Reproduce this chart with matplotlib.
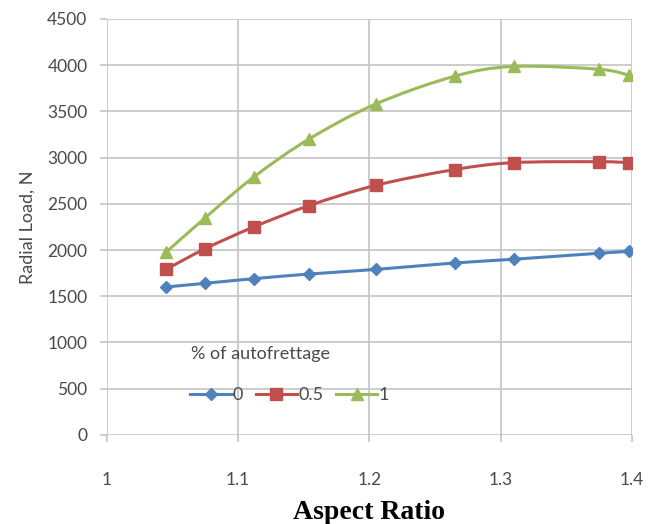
import numpy as np
import matplotlib.pyplot as plt
from matplotlib.path import Path
from matplotlib.patches import PathPatch
from matplotlib.lines import Line2D

# Данные
aspect_ratio = [1.045, 1.075, 1.112, 1.154, 1.205, 1.265, 1.310, 1.375, 1.398]
load_0 = [1600, 1640, 1690, 1740, 1790, 1860, 1900, 1965, 1985]
load_05 = [1790, 2015, 2250, 2480, 2700, 2870, 2945, 2955, 2945]
load_1 = [1975, 2350, 2790, 3200, 3580, 3880, 3985, 3955, 3890]

series_labels = ['0', '0.5', '1']
series_colors = ['#4F81BD', '#C0504D', '#9BBB59']
series_markers = ['D', 's', '^']
marker_sizes = [6.5, 9, 9]

plt.rcParams['font.family'] = ['Lato', 'DejaVu Sans']


# Сглаженная линия в стиле Excel (кривые Безье через точки)
def smooth_path(x, y, t=0.5):
    x = np.asarray(x, float)
    y = np.asarray(y, float)
    verts = [(x[0], y[0])]
    codes = [Path.MOVETO]
    n = len(x)
    for i in range(n - 1):
        x0, y0 = (x[i - 1], y[i - 1]) if i > 0 else (x[i], y[i])
        x3, y3 = (x[i + 2], y[i + 2]) if i + 2 < n else (x[i + 1], y[i + 1])
        c1 = (x[i] + (x[i + 1] - x0) * t / 3, y[i] + (y[i + 1] - y0) * t / 3)
        c2 = (x[i + 1] - (x3 - x[i]) * t / 3, y[i + 1] - (y3 - y[i]) * t / 3)
        verts += [c1, c2, (x[i + 1], y[i + 1])]
        codes += [Path.CURVE4] * 3
    return Path(verts, codes)


def main():
    fig = plt.figure(figsize=(6.48, 5.24), dpi=100)
    ax = fig.add_axes([0.165, 0.170, 0.810, 0.794])

    handles = []
    for ys, lab, col, mk, ms in zip([load_0, load_05, load_1], series_labels,
                                    series_colors, series_markers, marker_sizes):
        ax.add_patch(PathPatch(smooth_path(aspect_ratio, ys), fill=False,
                               edgecolor=col, linewidth=2.2, zorder=3))
        ax.plot(aspect_ratio, ys, linestyle='none', marker=mk, markersize=ms,
                color=col, zorder=4)
        handles.append(Line2D([], [], color=col, linewidth=2.2, marker=mk,
                              markersize=ms, label=lab))

    ax.set_xlim(1, 1.4)
    ax.set_ylim(0, 4500)
    ax.set_xticks([1, 1.1, 1.2, 1.3, 1.4])
    ax.set_xticklabels(['1', '1.1', '1.2', '1.3', '1.4'])
    ax.set_yticks(range(0, 4501, 500))
    ax.grid(True, color='#c8c8c8', linewidth=1.3)
    ax.set_axisbelow(True)
    for s in ax.spines.values():
        s.set_visible(False)
    ax.tick_params(axis='both', colors='#c8c8c8', labelcolor='#4a4a4a',
                   labelsize=12.5, length=5, width=1.3)
    ax.tick_params(axis='x', pad=22)
    ax.tick_params(axis='y', pad=9)

    ax.set_ylabel('Radial Load, N', fontsize=13, color='#4a4a4a', labelpad=8)
    ax.set_xlabel('Aspect Ratio', fontsize=20, fontweight='bold',
                  family=['Liberation Serif', 'DejaVu Serif'], labelpad=8)

    # Заголовок легенды отдельно, чтобы задать отступ как в оригинале
    ax.text(0.16, 0.195, '% of autofrettage', transform=ax.transAxes,
            fontsize=13, color='#4a4a4a', ha='left', va='center')
    leg = ax.legend(handles=handles, ncol=3, loc='center left',
                    bbox_to_anchor=(0.145, 0.096), frameon=False, fontsize=13,
                    handlelength=2.3, handletextpad=0.05, columnspacing=0.7,
                    borderaxespad=0)
    for txt in leg.get_texts():
        txt.set_color('#4a4a4a')

    plt.savefig('out.png', dpi=100)


if __name__ == "__main__":
    main()
